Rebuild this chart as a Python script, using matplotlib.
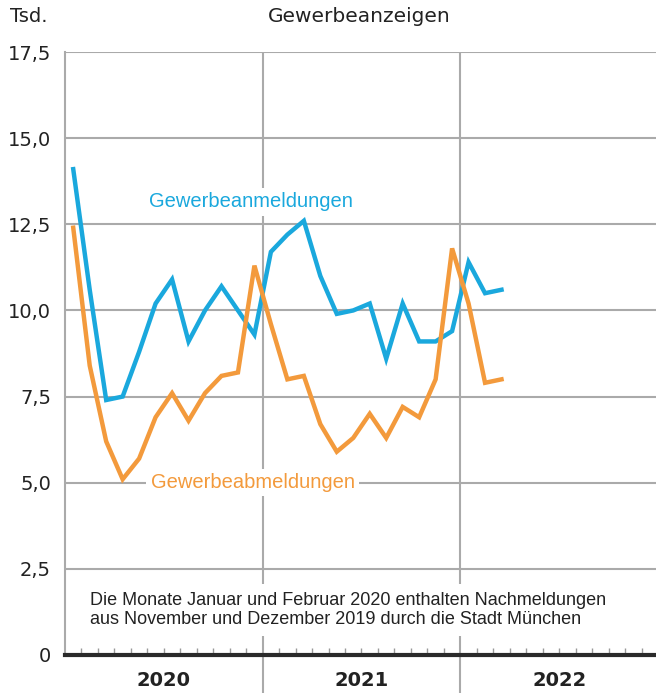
import matplotlib.pyplot as plt
from matplotlib.transforms import blended_transform_factory

# monthly values Jan 2020 .. Mar 2022, in thousands
anmeldungen = [14.1, 10.6, 7.4, 7.5, 8.8, 10.2, 10.9, 9.1, 10.0, 10.7, 10.0, 9.3,
               11.7, 12.2, 12.6, 11.0, 9.9, 10.0, 10.2, 8.6, 10.2, 9.1, 9.1, 9.4,
               11.4, 10.5, 10.6]
abmeldungen = [12.4, 8.4, 6.2, 5.1, 5.7, 6.9, 7.6, 6.8, 7.6, 8.1, 8.2, 11.3,
               9.6, 8.0, 8.1, 6.7, 5.9, 6.3, 7.0, 6.3, 7.2, 6.9, 8.0, 11.8,
               10.2, 7.9, 8.0]
years = ["2020", "2021", "2022"]
yticks = [0, 2.5, 5, 7.5, 10, 12.5, 15, 17.5]

blue = "#1aa8dd"
orange = "#f39a3c"
grid = "#aaaaaa"
dark = "#222222"
sans = ["Liberation Sans", "DejaVu Sans"]

fig = plt.figure(figsize=(6.56, 6.93), dpi=100)
ax = fig.add_axes([65 / 656, 38 / 693, 593 / 656, 603 / 693])

months = list(range(len(anmeldungen)))
ax.plot(months, anmeldungen, color=blue, lw=3.2, zorder=3, solid_joinstyle="miter")
ax.plot(months, abmeldungen, color=orange, lw=3.2, zorder=3, solid_joinstyle="miter")

ax.set_xlim(-0.5, 35.5)
ax.set_ylim(0, 17.5)

for y in yticks[1:]:
    ax.axhline(y, color=grid, lw=1.5, zorder=1)
for i in range(1, len(years)):
    ax.axvline(12 * i - 0.5, color=grid, lw=1.5, zorder=1)

ax.set_yticks(yticks)
ax.set_yticklabels(["0"] + [f"{v:.1f}".replace(".", ",") for v in yticks[1:]],
                   fontsize=14, color=dark)
ax.tick_params(axis="y", length=0, pad=10)

ax.set_xticks([12 * i - 0.5 for i in range(1, len(years))])
ax.set_xticklabels([])
ax.tick_params(axis="x", which="major", length=36, width=1.5, color=grid, direction="out")
ax.set_xticks([k + 0.5 for k in range(35) if (k + 1) % 12 != 0], minor=True)
ax.tick_params(axis="x", which="minor", length=5, width=1, color="#999999", direction="in")

tr = blended_transform_factory(ax.transData, ax.transAxes)
for i, yr in enumerate(years):
    ax.text(12 * i + 5.5, -0.043, yr, transform=tr, ha="center", va="center",
            fontsize=14, fontweight="bold", color=dark)

for s in ["top", "right"]:
    ax.spines[s].set_visible(False)
ax.spines["left"].set_color(grid)
ax.spines["left"].set_linewidth(1.5)
ax.spines["bottom"].set_color("#2a2a2a")
ax.spines["bottom"].set_linewidth(3)
ax.spines["bottom"].set_zorder(4)

ax.text(4.6, 13.15, "Gewerbeanmeldungen", color=blue, fontsize=14.5, family=sans,
        va="center", ha="left", zorder=2,
        bbox=dict(facecolor="white", edgecolor="none", pad=3))
ax.text(4.7, 5.0, "Gewerbeabmeldungen", color=orange, fontsize=14.5, family=sans,
        va="center", ha="left", zorder=2,
        bbox=dict(facecolor="white", edgecolor="none", pad=3))
ax.text(1.0, 1.3, "Die Monate Januar und Februar 2020 enthalten Nachmeldungen\n"
        "aus November und Dezember 2019 durch die Stadt München",
        fontsize=13, family=sans, color=dark, va="center", ha="left",
        linespacing=1.15, zorder=2,
        bbox=dict(facecolor="white", edgecolor="none", pad=6))

fig.text(10 / 656, 1 - 17 / 693, "Tsd.", fontsize=14, color=dark,
         va="center", ha="left")
fig.text(359 / 656, 1 - 17 / 693, "Gewerbeanzeigen", fontsize=14.5,
         color=dark, va="center", ha="center")

fig.savefig("out.png", dpi=100)
